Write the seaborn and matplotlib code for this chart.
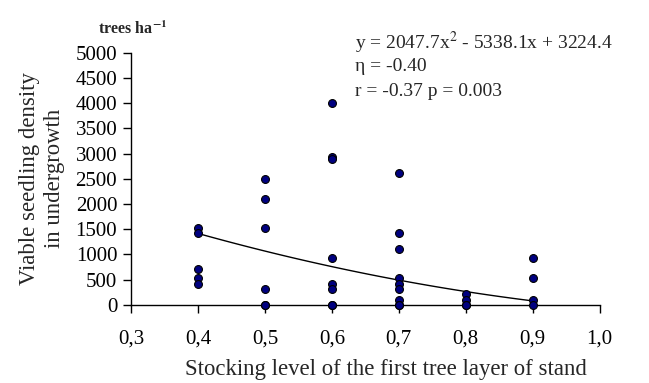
import matplotlib
matplotlib.use("Agg")
import matplotlib.pyplot as plt
import seaborn as sns
import numpy as np
import pandas as pd

# data
stock_04 = [1530, 1430, 720, 530, 420]
stock_05 = [2500, 2100, 1530, 320, 0, 0]
stock_06 = [4000, 2930, 2900, 920, 420, 320, 0, 0]
stock_07 = [2620, 1430, 1110, 530, 420, 320, 100, 0, 0]
stock_08 = [210, 100, 0, 0]
stock_09 = [920, 530, 100, 0]
stock_levels = [0.4, 0.5, 0.6, 0.7, 0.8, 0.9]

# trend line coefficients as printed on the chart
trend_coef = [2047.7, -5338.1, 3224.4]

x_ticks = [0.3, 0.4, 0.5, 0.6, 0.7, 0.8, 0.9, 1.0]
x_tick_labels = ["0,3", "0,4", "0,5", "0,6", "0,7", "0,8", "0,9", "1,0"]
y_ticks = [0, 500, 1000, 1500, 2000, 2500, 3000, 3500, 4000, 4500, 5000]

groups = [stock_04, stock_05, stock_06, stock_07, stock_08, stock_09]
rows = []
for lvl, vals in zip(stock_levels, groups):
    for v in vals:
        rows.append({"stock": lvl, "density": v})
df = pd.DataFrame(rows)

sns.set_style("white")
plt.rcParams["font.family"] = ["Liberation Serif", "DejaVu Serif"]
plt.rcParams["mathtext.fontset"] = "stix"

fig = plt.figure(figsize=(6.49, 3.83), dpi=100)
ax = fig.add_axes([0.202, 0.204, 0.722, 0.658])

xs = np.linspace(stock_levels[0], stock_levels[-1], 100)
ax.plot(xs, np.polyval(trend_coef, xs), color="black", lw=1.0, zorder=2)

sns.scatterplot(data=df, x="stock", y="density", ax=ax, color="#000080",
                edgecolor="black", linewidth=0.8, s=32, zorder=3, clip_on=False)

ax.set_xlim(0.3, 1.0)
ax.set_ylim(0, 5000)
ax.set_xticks(x_ticks)
ax.set_xticklabels(x_tick_labels)
ax.set_yticks(y_ticks)
ax.tick_params(axis="both", direction="out", length=6, width=1, labelsize=15,
               color="black", labelcolor="black", bottom=True, left=True)
ax.tick_params(axis="x", pad=12)
ax.tick_params(axis="y", pad=4)

sns.despine(ax=ax)
for sp in ["left", "bottom"]:
    ax.spines[sp].set_color("black")
    ax.spines[sp].set_linewidth(1)

ax.set_xlabel("Stocking level of the first tree layer of stand", fontsize=16.4, va="center")
ax.xaxis.set_label_coords(0.544, -0.258)
ax.set_ylabel("Viable seedling density\nin undergrowth", fontsize=16.4,
              linespacing=1.3, va="center")
ax.yaxis.set_label_coords(-0.19, 0.5)

fig.text(0.151, 0.912, r"trees ha$^{\mathbf{-1}}$", fontsize=11.5, fontweight="bold",
         ha="left", va="baseline")

fig.text(0.547, 0.888, r"y = 2047.7x$^2$ - 5338.1x + 3224.4", fontsize=14, ha="left", va="center")
fig.text(0.547, 0.826, "η = -0.40", fontsize=14, ha="left", va="center")
fig.text(0.547, 0.762, "r = -0.37 p = 0.003", fontsize=14, ha="left", va="center")

fig.savefig("out.png", dpi=100)
